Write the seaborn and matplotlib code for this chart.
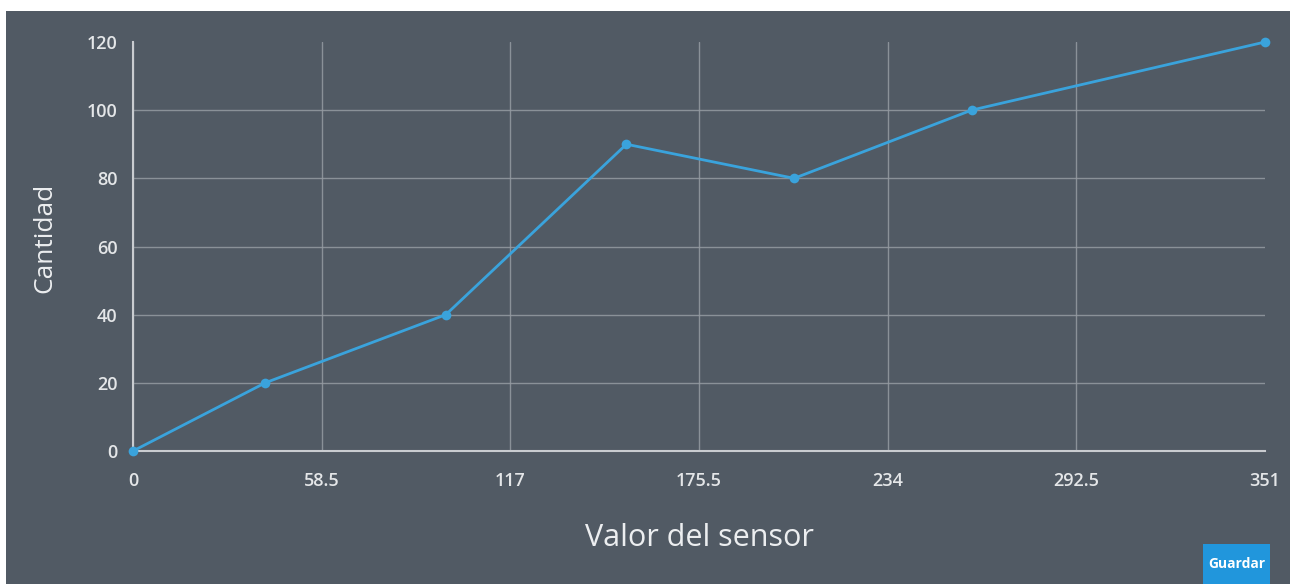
import matplotlib
matplotlib.use("Agg")
import matplotlib.pyplot as plt
import seaborn as sns
import pandas as pd
from matplotlib.patches import Rectangle

# data
sensor_values = [0, 41, 97, 153, 205, 260, 351]
counts = [0, 20, 40, 90, 80, 100, 120]
x_ticks = [0, 58.5, 117, 175.5, 234, 292.5, 351]
x_tick_labels = ["0", "58.5", "117", "175.5", "234", "292.5", "351"]
y_ticks = [0, 20, 40, 60, 80, 100, 120]

df = pd.DataFrame({"Valor del sensor": sensor_values, "Cantidad": counts})

bg = "#515a64"
light = "#c9ccd0"
line_color = "#3aa3dc"

sns.set_style("white")
plt.rcParams["font.family"] = ["Open Sans", "DejaVu Sans"]

fig = plt.figure(figsize=(12.9, 5.84), dpi=100)
fig.patch.set_facecolor("white")
# dark panel (white strip on top and left like the screenshot)
fig.patches.append(Rectangle((6 / 1290, 0), 1 - 6 / 1290, (584 - 11) / 584,
                             transform=fig.transFigure, facecolor=bg,
                             edgecolor="none", zorder=-10))

ax = fig.add_axes([133 / 1290, (584 - 451) / 584, (1265 - 133) / 1290, (451 - 42) / 584])
ax.set_facecolor(bg)

sns.lineplot(data=df, x="Valor del sensor", y="Cantidad", ax=ax,
             color=line_color, linewidth=2, marker="o", markersize=7,
             markeredgewidth=0, clip_on=False, zorder=3)

ax.set_xlim(0, 351)
ax.set_ylim(0, 120)
ax.set_xticks(x_ticks)
ax.set_xticklabels(x_tick_labels)
ax.set_yticks(y_ticks)

ax.grid(True, color="#959ba2", linewidth=1, alpha=0.85)
ax.set_axisbelow(True)
# no grid on the outer edges (top line / right line)
ax.xaxis.get_gridlines()[-1].set_visible(False)
ax.yaxis.get_gridlines()[-1].set_visible(False)

for side in ["top", "right"]:
    ax.spines[side].set_visible(False)
for side in ["left", "bottom"]:
    ax.spines[side].set_color(light)
    ax.spines[side].set_linewidth(1.5)

ax.tick_params(axis="both", colors=light, labelsize=13, length=6, width=1.2,
               direction="out", pad=5)
ax.tick_params(axis="x", pad=9)
for lbl in ax.get_xticklabels() + ax.get_yticklabels():
    lbl.set_color("#e4e6e8")
    lbl.set_fontweight("semibold")

ax.set_xlabel("Valor del sensor", fontsize=22, color="#eceef0", labelpad=24)
ax.set_ylabel("Cantidad", fontsize=19, color="#eceef0", labelpad=21)
ax.yaxis.label.set_y(0.52)

# "Guardar" button
fig.patches.append(Rectangle((1203 / 1290, 0), (1270 - 1203) / 1290, 40 / 584,
                             transform=fig.transFigure, facecolor="#2196dc",
                             edgecolor="none", zorder=1))
fig.text((1203 + 1270) / 2 / 1290, 20 / 584, "Guardar", color="white",
         fontsize=10, fontweight="bold", ha="center", va="center")

fig.savefig("out.png", dpi=100, facecolor=fig.get_facecolor())
